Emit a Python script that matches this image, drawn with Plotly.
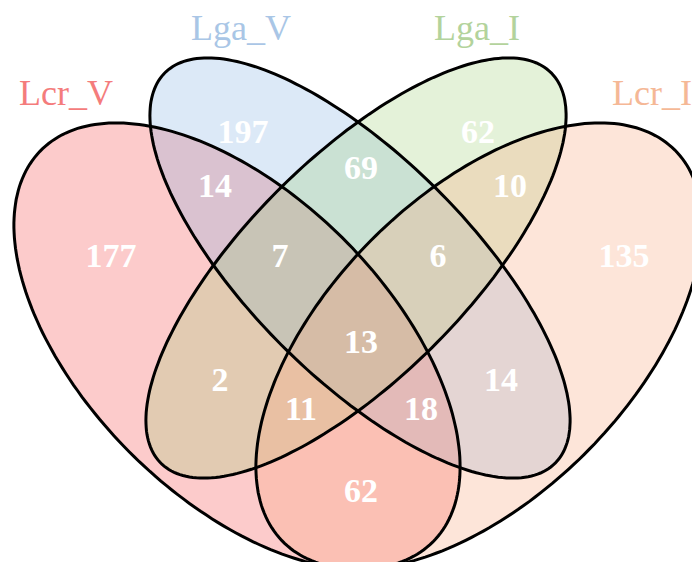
import numpy as np
import plotly.graph_objects as go

# set names and their colours
sets = ['Lcr_V', 'Lga_V', 'Lga_I', 'Lcr_I']
fill_colors = ['rgba(248,110,110,0.36)', 'rgba(120,170,225,0.26)',
               'rgba(150,205,110,0.26)', 'rgba(250,170,130,0.30)']
label_colors = ['#f47c7c', '#a9c6e6', '#b3d39c', '#f5b896']

# region counts (membership pattern over Lcr_V, Lga_V, Lga_I, Lcr_I)
regions = ['1000', '0100', '0010', '0001', '1100', '0110', '0011',
           '1110', '0111', '1111', '1010', '0101', '1011', '1101', '1001']
counts = [177, 197, 62, 135, 14, 69, 10, 7, 6, 13, 2, 14, 11, 18, 62]

# ellipse geometry: cx, cy, semi-major, semi-minor, angle (deg)
ellipses = [(229, 338, 277, 151, 45),
            (352, 260, 276, 110, 45),
            (348, 260, 276, 110, -45),
            (471, 338, 277, 151, -45)]
label_pos = [(58, 85), (233, 20), (469, 20), (644, 85)]
region_pos = [(103, 250), (235, 126), (470, 126), (616, 250), (207, 180),
              (353, 162), (502, 180), (272, 250), (430, 250), (353, 336),
              (212, 374), (493, 374), (293, 403), (413, 403), (353, 485)]


def ellipse_path(cx, cy, a, b, ang, n=240):
    t = np.linspace(0, 2 * np.pi, n)
    th = np.radians(ang)
    x = cx + a * np.cos(t) * np.cos(th) - b * np.sin(t) * np.sin(th)
    y = cy + a * np.cos(t) * np.sin(th) + b * np.sin(t) * np.cos(th)
    return 'M ' + ' L '.join(f'{xi:.1f},{yi:.1f}' for xi, yi in zip(x, y)) + ' Z'


fig = go.Figure()
shapes = []
for (cx, cy, a, b, ang), col in zip(ellipses, fill_colors):
    shapes.append(dict(type='path', path=ellipse_path(cx, cy, a, b, ang),
                       fillcolor=col, line=dict(width=0),
                       xref='x', yref='y', layer='below'))
# outlines drawn on top of all fills
for (cx, cy, a, b, ang) in ellipses:
    shapes.append(dict(type='path', path=ellipse_path(cx, cy, a, b, ang),
                       line=dict(color='black', width=3),
                       xref='x', yref='y', layer='above'))

fig.add_trace(go.Scatter(
    x=[p[0] for p in region_pos], y=[p[1] for p in region_pos],
    mode='text', text=['<b>%d</b>' % c for c in counts],
    textfont=dict(family='Liberation Serif', size=34, color='white'),
    hoverinfo='skip'))

annotations = []
for name, (x, y), col in zip(sets, label_pos, label_colors):
    annotations.append(dict(x=x, y=y, text=name, showarrow=False,
                            font=dict(family='Liberation Serif', size=36, color=col)))

fig.update_layout(
    width=700, height=562,
    margin=dict(l=0, r=0, t=0, b=0),
    plot_bgcolor='white', paper_bgcolor='white',
    showlegend=False, shapes=shapes, annotations=annotations,
    xaxis=dict(range=[0, 700], visible=False),
    yaxis=dict(range=[562, 0], visible=False))
fig.write_html('out.html')
